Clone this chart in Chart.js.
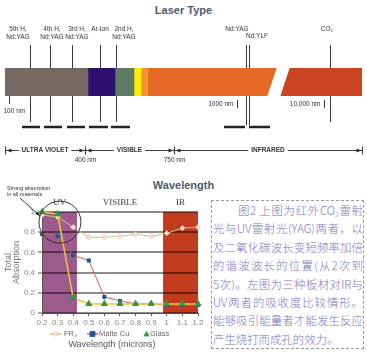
<!DOCTYPE html>
<html>
<head>
<meta charset="utf-8">
<script src="https://cdn.jsdelivr.net/npm/chart.js@4.4.1/dist/chart.umd.min.js"></script>
<style>
    html, body { margin: 0; padding: 0; background: #fff; }
    body { width: 367px; height: 352px; position: relative; overflow: hidden; font-family: 'Liberation Sans', Arial, sans-serif; }
    .title { position: absolute; left: 0; width: 367px; text-align: center; font-weight: bold; font-size: 11px; line-height: 14px; color: #4d5a73; }
    canvas { position: absolute; left: 0; }
    #spectrum { top: 0; }
    #absorb { top: 178px; }
    #note { position: absolute; left: 211px; top: 200px; width: 150px; height: 147px; border: 1px dashed #9a9a9a; padding: 0 0 0 1px;
            font-family: 'Noto Sans CJK SC', sans-serif; font-weight: 300; font-size: 11.4px; color: #7d74c2; }
    #note .ln { height: 18.4px; line-height: 18.4px; text-align: justify; text-align-last: justify; }
    #note .first { padding-left: 25px; }
    #note .last { text-align-last: left; }
    #note sub { font-size: 7px; line-height: 0; vertical-align: -2px; }
</style>
</head>
<body>

<div class="title" style="top: 3px;">Laser Type</div>
<div class="title" style="top: 178px;">Wavelength</div>

<canvas id="spectrum" width="367" height="170"></canvas>
<canvas id="absorb" width="210" height="174"></canvas>

<div id="note">
    <div class="ln first">图2 上图为红外CO<sub>2</sub>雷射</div>
    <div class="ln">光与UV雷射光(YAG)两者，以</div>
    <div class="ln">及二氧化碳波长变短频率加倍</div>
    <div class="ln">的谐波波长的位置(从2次到</div>
    <div class="ln">5次)。左图为三种板材对IR与</div>
    <div class="ln">UV两者的吸收度比较情形。</div>
    <div class="ln">能够吸引能量者才能发生反应</div>
    <div class="ln last">产生烧打而成孔的效力。</div>
</div>

<script>

// ---- Laser Type diagram (positions are in units along the spectrum bar) ----

const bandNames = [ 'UV', 'Violet', 'Blue-green', 'Yellow', 'Orange', 'Near IR', 'Far IR' ];
const bandWidths = [ 83, 27, 19, 7, 7, 132, 89 ];
const bandColors = [ '#756862', '#2f0f6e', '#5f7b63', '#ffec00', '#f5922e', '#e56a25', '#cc431f' ];

// slanted break in the bar: [ top left, top right, bottom left, bottom right ]
const barBreak = [ 272, 285, 262, 275 ];

const laserNames = [
    [ '5th H,', 'Nd:YAG' ], [ '4th H,', 'Nd:YAG' ], [ '3rd H,', 'Nd:YAG' ], [ 'Ar-Ion' ],
    [ '2nd H,', 'Nd:YAG' ], [ 'Nd:YAG' ], [ 'Nd:YLF' ], [ 'CO₂' ]
];
const laserPos = [ 25, 45, 67, 95, 111, 241, 244, 325 ];
const laserLabelPos = [ 13, 47, 72, 95, 119, 232, 252, 322 ];

const rangeFrom = [ 17, 39, 62, 84, 106, 219, 244 ];
const rangeTo = [ 35, 57, 80, 103, 125, 240, 265 ];

const nmLabels = [ '100 nm', '1000 nm', '10,000 nm' ];
const nmPos = [ 4, 232, 319 ];

const regionLabels = [ 'ULTRA VIOLET', 'VISIBLE', 'INFRARED' ];
const regionEdges = [ 0, 80, 169, 357 ];
const edgeLabels = [ '', '400 nm', '750 nm', '' ];

// ---- Wavelength chart ----

const wavelengths = [ 0.2, 0.3, 0.4, 0.5, 0.6, 0.7, 0.8, 0.9, 1.0, 1.1, 1.2 ];
const fr4 = [ 0.97, 0.95, 0.85, 0.75, 0.75, 0.76, 0.78, 0.76, 0.79, 0.84, 0.85 ];
const matteCu = [ 0.78, 0.76, 0.57, 0.52, 0.16, 0.12, 0.09, 0.09, 0.08, 0.08, 0.08 ];
const glass = [ 1.0, 0.98, 0.15, 0.09, 0.09, 0.09, 0.09, 0.09, 0.09, 0.09, 0.09 ];

const regionNames = [ 'UV', 'VISIBLE', 'IR' ];
const uvRange = [ 0.2, 0.424 ];
const irRange = [ 0.976, 1.2 ];

const FONT = "'Liberation Sans', Arial, sans-serif";

/**
 * Draws a small filled arrow head pointing along dir (+1 right, -1 left).
 */
function arrowHead ( ctx, x, y, dir ) {

    ctx.beginPath();
    ctx.moveTo( x, y );
    ctx.lineTo( x - dir * 5, y - 2 );
    ctx.lineTo( x - dir * 5, y + 2 );
    ctx.closePath();
    ctx.fill();

}

const spectrumPlugin = {
    id: 'spectrum',
    afterDatasetsDraw ( chart ) {

        const { ctx, scales: { x }, chartArea: a } = chart;
        const px = v => x.getPixelForValue( v );

        // white slanted break between near and far infrared
        ctx.save();
        ctx.fillStyle = '#fff';
        ctx.beginPath();
        ctx.moveTo( px( barBreak[ 0 ] ), a.top - 1 );
        ctx.lineTo( px( barBreak[ 1 ] ), a.top - 1 );
        ctx.lineTo( px( barBreak[ 3 ] ), a.bottom + 1 );
        ctx.lineTo( px( barBreak[ 2 ] ), a.bottom + 1 );
        ctx.closePath();
        ctx.fill();
        ctx.restore();

    },
    afterDraw ( chart ) {

        const { ctx, scales: { x }, chartArea: a } = chart;
        const px = v => Math.round( x.getPixelForValue( v ) ) + 0.5;

        ctx.save();
        ctx.strokeStyle = '#3a3a3a';
        ctx.fillStyle = '#333';
        ctx.lineWidth = 1;
        ctx.font = `6.5px ${FONT}`;
        ctx.textAlign = 'center';
        ctx.textBaseline = 'middle';

        // laser lines, above and below the bar
        laserPos.forEach( ( p, i ) => {

            ctx.beginPath();
            ctx.moveTo( px( p ), 45 ); ctx.lineTo( px( p ), a.top );
            ctx.moveTo( px( p ), a.bottom ); ctx.lineTo( px( p ), i >= 5 && i <= 6 ? 125 : 122 );
            ctx.stroke();

            const lines = laserNames[ i ];
            const y0 = i === 6 ? 36 : 29;
            lines.forEach( ( t, j ) => ctx.fillText( t, x.getPixelForValue( laserLabelPos[ i ] ), y0 + j * 8 ) );

        } );

        // wavelength ranges of the lasers
        ctx.lineWidth = 2.5;
        ctx.strokeStyle = '#222';
        rangeFrom.forEach( ( f, i ) => {
            ctx.beginPath();
            ctx.moveTo( x.getPixelForValue( f ), 127 );
            ctx.lineTo( x.getPixelForValue( rangeTo[ i ] ), 127 );
            ctx.stroke();
        } );

        // nm marks
        ctx.lineWidth = 1;
        ctx.strokeStyle = '#3a3a3a';
        nmPos.forEach( ( p, i ) => {

            ctx.beginPath();
            if ( i === 0 ) {
                ctx.moveTo( px( p ), a.bottom ); ctx.lineTo( px( p ), 104 );
            } else {
                ctx.moveTo( px( p ), 100 ); ctx.lineTo( px( p ), 108 );
            }
            ctx.stroke();

            if ( i === 0 ) {
                ctx.textAlign = 'left';
                ctx.fillText( nmLabels[ i ], px( p ) - 6, 111 );
            } else {
                ctx.textAlign = 'right';
                ctx.fillText( nmLabels[ i ], px( p ) - 4, 104 );
            }

        } );

        // region row with arrows
        const ry = 150.5;
        ctx.beginPath();
        ctx.moveTo( px( regionEdges[ 0 ] ), ry );
        ctx.lineTo( px( regionEdges[ regionEdges.length - 1 ] ), ry );
        ctx.stroke();

        regionEdges.forEach( ( e, i ) => {

            ctx.beginPath();
            ctx.moveTo( px( e ), ry - 4 ); ctx.lineTo( px( e ), ry + 4 );
            ctx.stroke();

            if ( i > 0 ) arrowHead( ctx, px( e ) - 1, ry, 1 );
            if ( i < regionEdges.length - 1 ) arrowHead( ctx, px( e ) + 1, ry, -1 );

            ctx.textAlign = 'center';
            if ( edgeLabels[ i ] ) ctx.fillText( edgeLabels[ i ], px( e ), 160 );

        } );

        ctx.font = `bold 6.5px ${FONT}`;
        regionLabels.forEach( ( l, i ) => {

            const cx = ( x.getPixelForValue( regionEdges[ i ] ) + x.getPixelForValue( regionEdges[ i + 1 ] ) ) / 2;
            const w = ctx.measureText( l ).width + 6;
            ctx.fillStyle = '#fff';
            ctx.fillRect( cx - w / 2, ry - 3, w, 6 );
            ctx.fillStyle = '#333';
            ctx.fillText( l, cx, ry );

        } );

        ctx.restore();

    }
};

new Chart( document.getElementById( 'spectrum' ), {
    type: 'bar',
    data: {
        labels: [ '' ],
        datasets: bandNames.map( ( n, i ) => ( {
            label: n,
            data: [ bandWidths[ i ] ],
            backgroundColor: bandColors[ i ],
            barPercentage: 1,
            categoryPercentage: 1
        } ) )
    },
    options: {
        indexAxis: 'y',
        responsive: false,
        animation: false,
        layout: { padding: { left: 5, right: 5, top: 68, bottom: 74 } },
        scales: {
            x: { stacked: true, display: false, min: 0, max: 357 },
            y: { stacked: true, display: false }
        },
        plugins: { legend: { display: false }, tooltip: { enabled: false } }
    },
    plugins: [ spectrumPlugin ]
} );

/**
 * Draws one legend marker in the style of a dataset.
 */
function drawMarker ( ctx, style, x, y, r, fill, stroke ) {

    ctx.fillStyle = fill;
    ctx.strokeStyle = stroke;
    ctx.lineWidth = 0.8;
    ctx.beginPath();
    if ( style === 'rect' ) ctx.rect( x - r, y - r, r * 2, r * 2 );
    else if ( style === 'triangle' ) {
        ctx.moveTo( x, y - r ); ctx.lineTo( x + r, y + r * 0.8 ); ctx.lineTo( x - r, y + r * 0.8 ); ctx.closePath();
    } else {
        ctx.moveTo( x, y - r ); ctx.lineTo( x + r, y ); ctx.lineTo( x, y + r ); ctx.lineTo( x - r, y ); ctx.closePath();
    }
    ctx.fill();
    ctx.stroke();

}

const absorbPlugin = {
    id: 'absorb',
    beforeDraw ( chart ) {

        const { ctx, scales: { x, y } } = chart;
        const top = y.getPixelForValue( 1 ), bottom = y.getPixelForValue( 0 );

        ctx.save();
        ctx.fillStyle = '#9c5a8e';
        ctx.fillRect( x.getPixelForValue( uvRange[ 0 ] ), top, x.getPixelForValue( uvRange[ 1 ] ) - x.getPixelForValue( uvRange[ 0 ] ), bottom - top );
        ctx.fillStyle = '#c13c1c';
        ctx.fillRect( x.getPixelForValue( irRange[ 0 ] ), top, x.getPixelForValue( irRange[ 1 ] ) - x.getPixelForValue( irRange[ 0 ] ), bottom - top );
        ctx.restore();

    },
    afterDraw ( chart ) {

        const { ctx, scales: { x, y } } = chart;

        ctx.save();

        // region names above the plot
        ctx.font = "9px 'Liberation Serif', serif";
        ctx.fillStyle = '#444';
        ctx.textAlign = 'center';
        ctx.textBaseline = 'middle';
        const centers = [
            ( uvRange[ 0 ] + uvRange[ 1 ] ) / 2,
            ( uvRange[ 1 ] + irRange[ 0 ] ) / 2,
            ( irRange[ 0 ] + irRange[ 1 ] ) / 2
        ];
        regionNames.forEach( ( n, i ) => ctx.fillText( n, x.getPixelForValue( centers[ i ] ), 25 ) );

        // circle around the strong absorption corner
        const cx = x.getPixelForValue( 0.315 ), cy = y.getPixelForValue( 0.9 );
        ctx.strokeStyle = '#333';
        ctx.lineWidth = 1;
        ctx.beginPath();
        ctx.arc( cx, cy, 21, 0, Math.PI * 2 );
        ctx.stroke();

        // note and arrow
        ctx.font = `5.5px ${FONT}`;
        ctx.textAlign = 'left';
        ctx.fillStyle = '#333';
        ctx.fillText( 'Strong absorption', 7, 10 );
        ctx.fillText( 'in all materials', 7, 16 );

        const ang = Math.PI + 0.3;
        const tx = cx + 21 * Math.cos( ang ), ty = cy + 21 * Math.sin( ang );
        ctx.beginPath();
        ctx.moveTo( 20, 20 ); ctx.lineTo( tx, ty );
        ctx.stroke();
        const a = Math.atan2( ty - 20, tx - 20 );
        ctx.fillStyle = '#222';
        ctx.beginPath();
        ctx.moveTo( tx, ty );
        ctx.lineTo( tx - 5 * Math.cos( a - 0.35 ), ty - 5 * Math.sin( a - 0.35 ) );
        ctx.lineTo( tx - 5 * Math.cos( a + 0.35 ), ty - 5 * Math.sin( a + 0.35 ) );
        ctx.closePath();
        ctx.fill();

        // legend
        const ly = 156;
        ctx.font = `7.5px ${FONT}`;
        ctx.textBaseline = 'middle';
        const items = [ [ 0, 50, 64, true ], [ 1, 87, 99, true ], [ 2, 141, 150, false ] ];
        items.forEach( ( [ di, lx, tx2, withLine ] ) => {

            const ds = chart.data.datasets[ di ];
            if ( withLine ) {
                ctx.strokeStyle = ds.borderColor;
                ctx.lineWidth = 1.5;
                ctx.beginPath();
                ctx.moveTo( lx, ly ); ctx.lineTo( lx + 11, ly );
                ctx.stroke();
            }
            drawMarker( ctx, ds.pointStyle, lx + 5.5, ly, 2.5, ds.pointBackgroundColor, ds.pointBorderColor );
            ctx.fillStyle = '#666';
            ctx.fillText( ds.label, tx2, ly );

        } );

        // x axis title
        ctx.font = `9px ${FONT}`;
        ctx.textAlign = 'center';
        ctx.fillStyle = '#555';
        ctx.fillText( 'Wavelength (microns)', 112, 167 );

        ctx.restore();

    }
};

const fmt = v => String( +Number( v ).toFixed( 1 ) );

new Chart( document.getElementById( 'absorb' ), {
    type: 'line',
    data: {
        datasets: [ {
            label: 'FR₄',
            data: wavelengths.map( ( w, i ) => ( { x: w, y: fr4[ i ] } ) ),
            borderColor: '#c9c77a',
            borderWidth: 1,
            pointStyle: 'rectRot',
            pointRadius: 2.6,
            pointBackgroundColor: '#fbe4da',
            pointBorderColor: '#e9c2b2',
            order: 3
        }, {
            label: 'Matte Cu',
            data: wavelengths.map( ( w, i ) => ( { x: w, y: matteCu[ i ] } ) ),
            borderColor: '#dc5a48',
            borderWidth: 1,
            pointStyle: 'rect',
            pointRadius: 2.2,
            pointBackgroundColor: '#1d5a96',
            pointBorderColor: '#1d5a96',
            order: 2
        }, {
            label: 'Glass',
            data: wavelengths.map( ( w, i ) => ( { x: w, y: glass[ i ] } ) ),
            borderColor: '#f0c63c',
            borderWidth: 1.5,
            pointStyle: 'triangle',
            pointRadius: 2.8,
            pointBackgroundColor: '#2f9a40',
            pointBorderColor: '#2f9a40',
            order: 1
        } ]
    },
    options: {
        responsive: false,
        animation: false,
        layout: { padding: { left: 0, right: 12, top: 34, bottom: 0 } },
        elements: { line: { tension: 0 } },
        datasets: { line: { clip: false } },
        scales: {
            x: {
                type: 'linear',
                min: 0.2,
                max: 1.2,
                ticks: { stepSize: 0.1, callback: fmt, color: '#888', font: { size: 8, family: FONT }, padding: 2, maxRotation: 0 },
                grid: { drawOnChartArea: false, tickLength: 3, color: '#555' },
                border: { color: '#555' },
                afterFit: s => { s.height = 39; }
            },
            y: {
                min: 0,
                max: 1,
                ticks: { stepSize: 0.1, callback: fmt, color: '#888', font: { size: 8, family: FONT }, padding: 3 },
                grid: { color: 'rgba(0,0,0,0.45)', lineWidth: 2, tickLength: 4, tickColor: '#555', tickWidth: 1 },
                border: { color: '#555', width: 1 },
                title: { display: true, text: [ 'Total', 'Absorption' ], color: '#777', font: { size: 9, family: FONT, lineHeight: 0.9 }, padding: { top: 4, bottom: 0 } },
                afterFit: s => { s.width = 42; }
            }
        },
        plugins: { legend: { display: false }, tooltip: { enabled: false } }
    },
    plugins: [ absorbPlugin ]
} );

</script>
</body>
</html>
